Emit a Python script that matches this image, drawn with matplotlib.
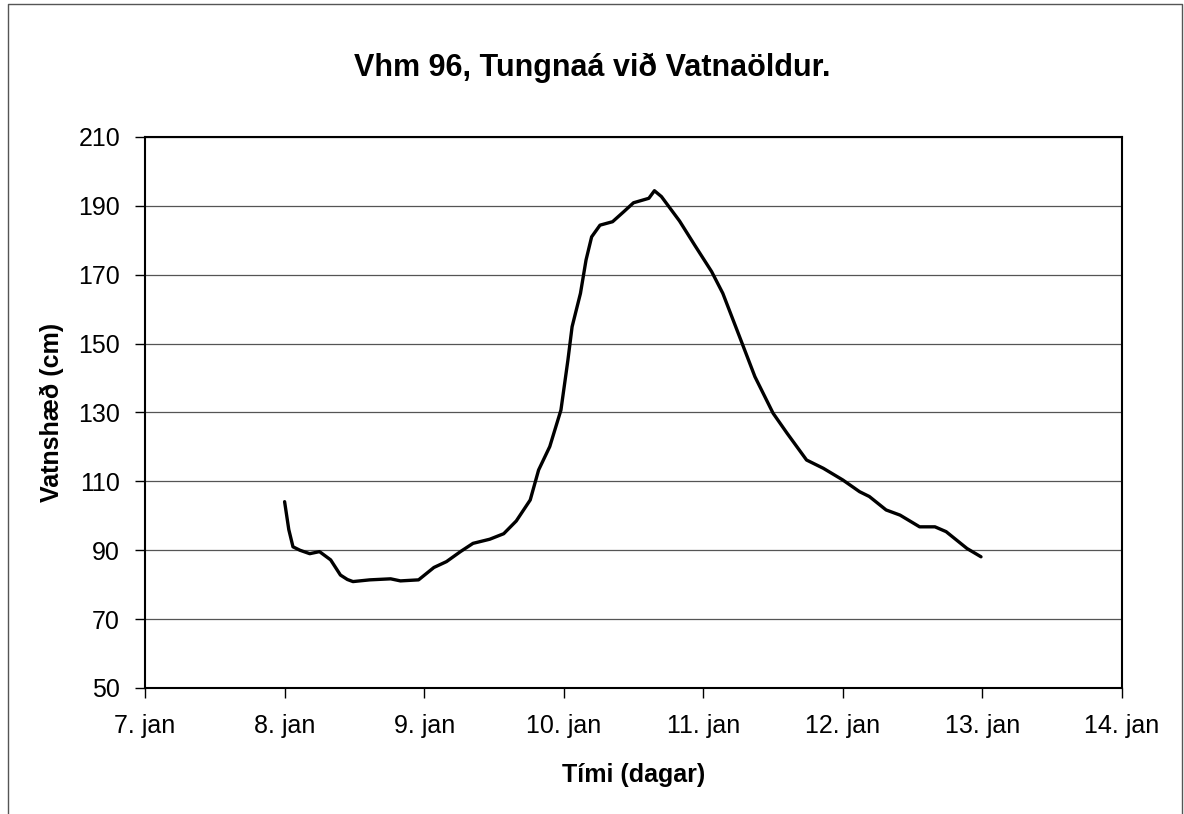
import matplotlib.pyplot as plt
from matplotlib.lines import Line2D

plt.rcParams['font.family'] = ['Liberation Sans', 'DejaVu Sans']

# day of January (fractional) and water level (cm)
days = [8.00, 8.03, 8.06, 8.11, 8.18, 8.25, 8.33, 8.40, 8.45, 8.49, 8.61, 8.76, 8.83, 8.96,
        9.07, 9.16, 9.26, 9.35, 9.47, 9.57, 9.66, 9.76, 9.82, 9.90, 9.98,
        10.03, 10.06, 10.12, 10.16, 10.20, 10.26, 10.35, 10.43, 10.50, 10.61,
        10.65, 10.70, 10.83, 10.94, 11.06, 11.14, 11.26, 11.37, 11.50, 11.60,
        11.74, 11.86, 12.00, 12.12, 12.19, 12.31, 12.41, 12.55, 12.66, 12.74,
        12.89, 12.99]
level = [104.1, 96.0, 91.0, 90.0, 89.0, 89.6, 87.2, 82.8, 81.5, 80.9, 81.4, 81.7, 81.1, 81.4,
         85.0, 86.7, 89.6, 92.0, 93.2, 94.8, 98.5, 104.6, 113.3, 120.1, 130.7,
         145.2, 154.9, 164.6, 174.3, 181.0, 184.4, 185.4, 188.3, 190.9, 192.2,
         194.4, 192.7, 185.6, 178.5, 170.9, 164.6, 152.0, 140.4, 129.8, 124.0,
         116.2, 113.8, 110.4, 107.0, 105.6, 101.7, 100.2, 96.8, 96.8, 95.4,
         90.5, 88.1]

xticks = [7, 8, 9, 10, 11, 12, 13, 14]
xlabels = [f"{d}. jan" for d in xticks]
yticks = list(range(50, 211, 20))

fig = plt.figure(figsize=(11.84, 8.14), dpi=100)
ax = fig.add_axes([0.1225, 0.1548, 0.8251, 0.6769])

ax.plot(days, level, color='black', lw=2.4, solid_capstyle='round', solid_joinstyle='round')

ax.set_xlim(7, 14)
ax.set_ylim(50, 210)
ax.set_xticks(xticks)
ax.set_xticklabels(xlabels)
ax.set_yticks(yticks)
ax.yaxis.grid(True, color='#555555', lw=0.9)
ax.set_axisbelow(True)
ax.tick_params(axis='both', direction='out', length=7, width=1.0, labelsize=18)
ax.tick_params(axis='x', pad=12)
ax.tick_params(axis='y', pad=11)
for s in ax.spines.values():
    s.set_linewidth(1.5)
    s.set_color('black')

ax.set_xlabel('Tími (dagar)', fontsize=18, fontweight='bold', labelpad=18)
ax.set_ylabel('Vatnshæð (cm)', fontsize=18, fontweight='bold', labelpad=10)
fig.text(0.5, 0.9165, 'Vhm 96, Tungnaá við Vatnaöldur.', ha='center', va='center',
         fontsize=22, fontweight='bold')

# outer chart-area border (left, top, right)
bx0, bx1, by1 = 8 / 1184, 1182 / 1184, 1 - 4 / 814
fig.add_artist(Line2D([bx0, bx0, bx1, bx1], [0, by1, by1, 0],
                      transform=fig.transFigure, color='#555555', lw=1.0))

fig.savefig('out.png', dpi=100)
